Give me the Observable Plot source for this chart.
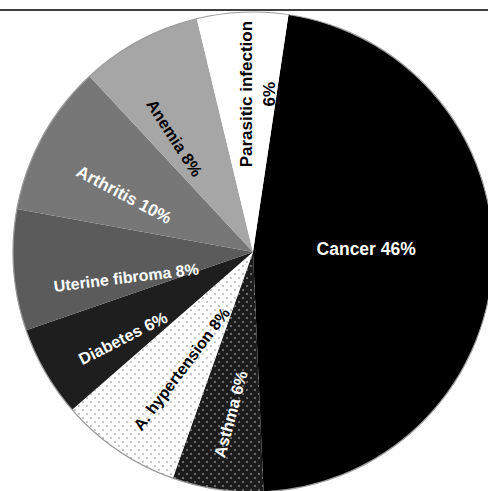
<!DOCTYPE html>
<html><head><meta charset="utf-8">
<script src="https://cdn.jsdelivr.net/npm/d3@7"></script>
<script src="https://cdn.jsdelivr.net/npm/@observablehq/plot@0.6"></script>
<style>html,body{margin:0;padding:0;background:#fff;overflow:hidden}</style>
</head><body><div id="chart"></div>
<script>
// ---- data ----
const categories = ["Cancer", "Asthma", "A. hypertension", "Diabetes", "Uterine fibroma", "Arthritis", "Anemia", "Parasitic infection"];
const percents = [46, 6, 8, 6, 8, 10, 8, 6];
const labelTexts = ["Cancer 46%", "Asthma 6%", "A. hypertension 8%", "Diabetes 6%", "Uterine fibroma 8%", "Arthritis 10%", "Anemia 8%", "Parasitic infection\n6%"];

// ---- styling ----
const fills = ["#000000", "url(#dotsDark)", "url(#dotsLight)", "#1e1e1e", "#5b5b5b", "#777777", "#a6a6a6", "#ffffff"];
const labelColors = ["#ffffff", "#ffffff", "#000000", "#ffffff", "#ffffff", "#ffffff", "#000000", "#000000"];
const labelRadius = [0.47, 0.68, 0.57, 0.65, 0.54, 0.59, 0.58, 0.66];
const labelNudge = [-5.6, 0, -2, -2.7, -6.2, -4, -5.8, 3.4];
const labelRotate = [0, -75, -53, -27, -7, 28, 57, -90];
const labelSize = [17.5, 16.5, 16, 16.5, 16, 17, 16.5, 17];
const startDeg = 8.5;

const pieGen = d3.pie().value(d => d.value).sort(null)
  .startAngle(startDeg * Math.PI / 180).endAngle(startDeg * Math.PI / 180 + 2 * Math.PI);

const data = categories.map((c, i) => ({category: c, value: percents[i], label: labelTexts[i], fill: fills[i]}));
const arcs = pieGen(data);
const labels = arcs.map((a, i) => {
  const mid = (a.startAngle + a.endAngle) / 2 + labelNudge[i] * Math.PI / 180;
  return {
    label: a.data.label,
    x: labelRadius[i] * Math.sin(mid),
    y: labelRadius[i] * Math.cos(mid),
    rotate: labelRotate[i],
    color: labelColors[i],
    size: labelSize[i]
  };
});

function pieMark(index, scales, values, dimensions, context) {
  const cx = scales.x(0), cy = scales.y(0), R = scales.x(1) - scales.x(0);
  const g = d3.create("svg:g");
  const defs = g.append("defs");
  const pd = defs.append("pattern").attr("id", "dotsDark").attr("patternUnits", "userSpaceOnUse")
    .attr("width", 8).attr("height", 8);
  pd.append("rect").attr("width", 8).attr("height", 8).attr("fill", "#1c1c1c");
  pd.append("circle").attr("cx", 2).attr("cy", 2).attr("r", 0.8).attr("fill", "#d0d0d0");
  pd.append("circle").attr("cx", 6).attr("cy", 6).attr("r", 0.8).attr("fill", "#d0d0d0");
  const pl = defs.append("pattern").attr("id", "dotsLight").attr("patternUnits", "userSpaceOnUse")
    .attr("width", 8).attr("height", 8);
  pl.append("rect").attr("width", 8).attr("height", 8).attr("fill", "#ffffff");
  pl.append("circle").attr("cx", 2).attr("cy", 2).attr("r", 0.8).attr("fill", "#808080");
  pl.append("circle").attr("cx", 6).attr("cy", 6).attr("r", 0.8).attr("fill", "#808080");
  const arc = d3.arc().innerRadius(0).outerRadius(R);
  g.append("g").attr("transform", `translate(${cx},${cy})`)
    .selectAll("path").data(arcs).join("path")
    .attr("d", arc).attr("fill", d => d.data.fill);
  g.append("circle").attr("cx", cx).attr("cy", cy).attr("r", R)
    .attr("fill", "none").attr("stroke", "#9a9a9a").attr("stroke-width", 1.2);
  return g.node();
}

const chart = Plot.plot({
  width: 488,
  height: 491,
  marginTop: 9.5, marginLeft: 0, marginRight: 0, marginBottom: 0,
  style: {background: "#fff", overflow: "hidden"},
  x: {domain: [-1, 1], range: [13, 493], axis: null},
  y: {domain: [-1, 1], range: [492, 12], axis: null},
  color: {type: "identity"},
  marks: [
    pieMark,
    Plot.text(labels, {
      x: "x", y: "y", text: "label", rotate: "rotate", fill: "color", fontSize: "size",
      fontWeight: "bold", fontFamily: "Liberation Sans, Arial, sans-serif", lineHeight: 1.35
    }),
    Plot.frame({anchor: "top", stroke: "#000", strokeWidth: 1.3})
  ]
});
document.getElementById("chart").appendChild(chart);
</script>
</body></html>
